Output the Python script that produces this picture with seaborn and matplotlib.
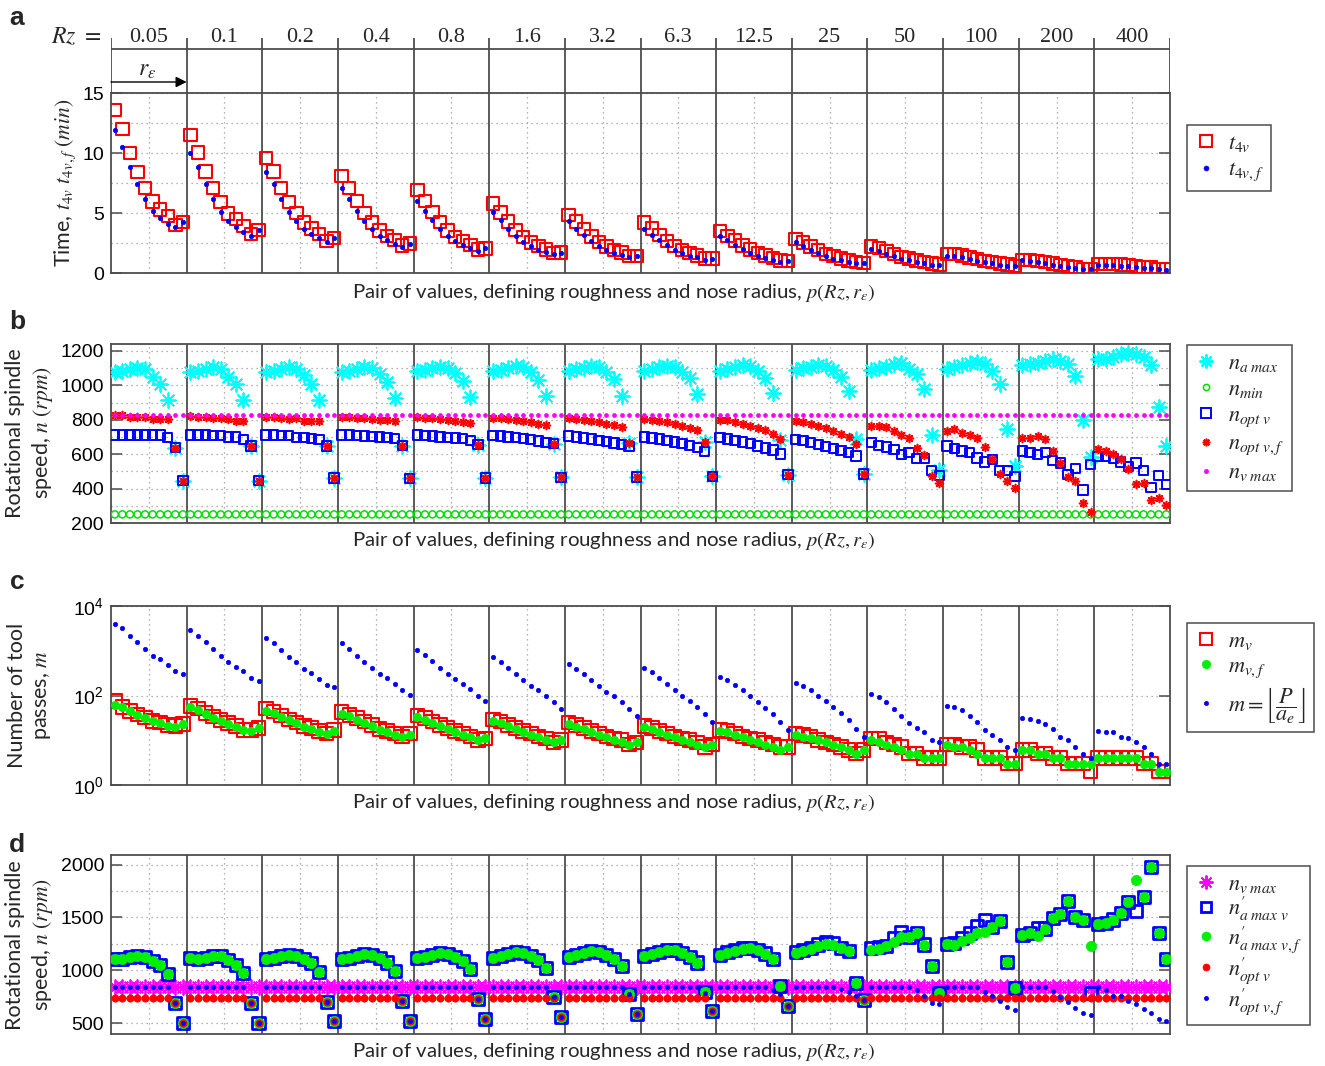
import numpy as np
import matplotlib
matplotlib.use("Agg")
import matplotlib.pyplot as plt
import seaborn as sns
from matplotlib.lines import Line2D
from matplotlib.ticker import FixedLocator, NullFormatter

sns.set_theme(style="white")
plt.rcParams['font.family'] = ['Liberation Sans', 'DejaVu Sans']
plt.rcParams['mathtext.fontset'] = 'stix'

# ---------------------------------------------------------------- data
rz_labels = ["0.05", "0.1", "0.2", "0.4", "0.8", "1.6", "3.2", "6.3",
             "12.5", "25", "50", "100", "200", "400"]
points_per_group = 10
pair = np.arange(1, len(rz_labels) * points_per_group + 1)

# (a) machining time, min
t4v = [
    13.6, 12.0, 10.0, 8.4, 7.1, 5.95, 5.3, 4.75, 4.0, 4.25,
    11.5, 10.05, 8.45, 7.1, 5.9, 4.97, 4.5, 3.94, 3.25, 3.58,
    9.6, 8.45, 7.1, 5.9, 5.0, 4.2, 3.7, 3.25, 2.67, 2.9,
    8.1, 7.1, 6.0, 5.0, 4.2, 3.55, 3.1, 2.75, 2.3, 2.45,
    6.9, 6.0, 5.1, 4.25, 3.55, 3.0, 2.65, 2.35, 1.95, 2.05,
    5.8, 5.05, 4.3, 3.6, 3.0, 2.55, 2.25, 1.95, 1.65, 1.7,
    4.85, 4.3, 3.65, 3.05, 2.6, 2.2, 1.9, 1.7, 1.4, 1.4,
    4.2, 3.7, 3.15, 2.65, 2.25, 1.9, 1.65, 1.45, 1.2, 1.2,
    3.5, 3.1, 2.7, 2.3, 1.95, 1.65, 1.45, 1.25, 1.05, 1.0,
    2.85, 2.55, 2.2, 1.9, 1.6, 1.4, 1.2, 1.05, 0.9, 0.85,
    2.2, 2.1, 1.85, 1.6, 1.35, 1.2, 1.05, 0.9, 0.8, 0.7,
    1.6, 1.6, 1.45, 1.3, 1.15, 1.0, 0.9, 0.8, 0.7, 0.6,
    1.1, 1.1, 1.0, 0.9, 0.8, 0.65, 0.55, 0.45, 0.35, 0.35,
    0.75, 0.75, 0.75, 0.7, 0.65, 0.55, 0.5, 0.45, 0.35, 0.3,
]
t4vf = [
    11.9, 10.5, 8.86, 7.4, 6.2, 5.2, 4.6, 4.1, 3.8, 4.25,
    10.0, 8.8, 7.4, 6.2, 5.1, 4.3, 3.86, 3.4, 3.1, 3.58,
    8.45, 7.4, 6.2, 5.1, 4.3, 3.7, 3.25, 2.9, 2.6, 2.9,
    7.1, 6.2, 5.2, 4.35, 3.65, 3.1, 2.75, 2.45, 2.2, 2.45,
    6.0, 5.2, 4.4, 3.7, 3.1, 2.65, 2.35, 2.1, 1.85, 2.05,
    5.05, 4.4, 3.7, 3.1, 2.6, 2.25, 1.95, 1.75, 1.55, 1.7,
    4.3, 3.7, 3.15, 2.65, 2.25, 1.9, 1.7, 1.5, 1.3, 1.4,
    3.7, 3.2, 2.75, 2.3, 1.95, 1.65, 1.45, 1.3, 1.1, 1.2,
    3.1, 2.75, 2.35, 2.0, 1.7, 1.45, 1.25, 1.1, 0.95, 1.0,
    2.55, 2.25, 1.95, 1.65, 1.4, 1.2, 1.05, 0.95, 0.8, 0.8,
    2.0, 1.85, 1.6, 1.4, 1.2, 1.05, 0.9, 0.8, 0.7, 0.65,
    1.45, 1.4, 1.3, 1.15, 1.0, 0.9, 0.8, 0.7, 0.6, 0.55,
    1.05, 1.0, 0.9, 0.8, 0.7, 0.6, 0.5, 0.4, 0.32, 0.3,
    0.7, 0.7, 0.65, 0.62, 0.58, 0.5, 0.45, 0.4, 0.32, 0.28,
]

# (b) rotational spindle speed, rpm
n_a_max = [
    1078, 1084, 1092, 1098, 1092, 1049, 1006, 916, 637, 445,
    1078, 1084, 1092, 1104, 1092, 1049, 1006, 916, 648, 445,
    1078, 1084, 1092, 1108, 1092, 1059, 1010, 916, 648, 461,
    1080, 1086, 1095, 1105, 1100, 1065, 1020, 925, 650, 460,
    1082, 1088, 1098, 1108, 1100, 1070, 1025, 930, 655, 462,
    1084, 1090, 1100, 1110, 1104, 1075, 1030, 935, 660, 465,
    1084, 1092, 1102, 1112, 1106, 1078, 1035, 940, 665, 468,
    1086, 1094, 1104, 1114, 1108, 1080, 1040, 950, 672, 472,
    1086, 1096, 1106, 1116, 1110, 1085, 1045, 955, 680, 480,
    1088, 1098, 1108, 1120, 1115, 1090, 1050, 965, 690, 485,
    1088, 1098, 1104, 1122, 1128, 1092, 1063, 981, 712, 510,
    1092, 1108, 1118, 1131, 1137, 1122, 1084, 1010, 745, 533,
    1118, 1122, 1131, 1143, 1151, 1143, 1122, 1053, 798, 582,
    1151, 1151, 1163, 1182, 1190, 1182, 1163, 1118, 872, 647,
]
n_min = [250] * 140
n_opt_v = [
    712, 712, 712, 712, 712, 712, 712, 696, 637, 445,
    712, 712, 712, 710, 710, 700, 700, 686, 648, 445,
    712, 712, 710, 710, 696, 696, 690, 686, 648, 461,
    712, 712, 708, 706, 702, 700, 696, 690, 650, 460,
    712, 708, 705, 700, 698, 694, 690, 680, 655, 462,
    710, 706, 700, 696, 690, 684, 676, 668, 660, 465,
    705, 700, 694, 688, 680, 672, 664, 655, 645, 468,
    700, 694, 688, 680, 670, 660, 650, 640, 615, 472,
    695, 688, 680, 670, 660, 648, 636, 625, 600, 480,
    685, 678, 668, 656, 646, 634, 620, 608, 590, 485,
    666, 651, 641, 628, 598, 608, 575, 575, 504, 475,
    647, 634, 618, 608, 578, 555, 569, 504, 504, 471,
    618, 608, 598, 608, 563, 549, 481, 516, 392, 539,
    588, 588, 575, 555, 529, 549, 504, 406, 476, 425,
]
n_opt_vf = [
    827, 827, 818, 818, 818, 804, 804, 804, 637, 445,
    824, 818, 818, 810, 810, 804, 794, 794, 648, 445,
    818, 818, 810, 804, 810, 794, 794, 790, 648, 461,
    818, 815, 812, 808, 804, 800, 796, 790, 650, 460,
    815, 812, 808, 804, 798, 794, 788, 780, 655, 462,
    812, 808, 804, 798, 792, 786, 778, 768, 660, 465,
    810, 806, 800, 792, 786, 778, 768, 756, 665, 468,
    806, 800, 794, 786, 776, 766, 754, 740, 672, 472,
    800, 796, 788, 778, 766, 752, 738, 720, 690, 480,
    790, 784, 776, 764, 750, 736, 720, 700, 660, 485,
    765, 765, 755, 735, 712, 696, 634, 594, 471, 431,
    735, 745, 725, 712, 696, 641, 569, 484, 445, 402,
    696, 696, 706, 686, 618, 549, 465, 445, 314, 265,
    628, 618, 598, 572, 516, 425, 431, 334, 343, 304,
]
n_v_max_b = [830] * 140

# (c) number of tool passes
m_v = [
    75, 56, 45, 38, 32, 27, 25, 22, 21, 23,
    58, 51, 41, 34, 28, 24, 21, 17, 17, 19,
    51, 44, 36, 29, 25, 21, 19, 16, 14, 17,
    43, 37, 31, 26, 22, 18, 16, 14, 12, 14,
    36, 31, 26, 22, 19, 16, 14, 12, 10, 11,
    29, 26, 22, 19, 16, 14, 12, 11, 9, 10,
    25, 22, 19, 16, 14, 12, 11, 10, 8, 9,
    21, 19, 16, 14, 12, 11, 10, 9, 7, 8,
    17, 16, 14, 12, 11, 10, 9, 8, 7, 7,
    14, 13, 12, 10, 9, 8, 7, 6, 5, 6,
    11, 11, 9, 8, 7, 5, 5, 4, 4, 4,
    8, 8, 7, 7, 6, 4, 4, 4, 3, 3,
    6, 6, 5, 5, 4, 4, 3, 3, 3, 2,
    4, 4, 4, 4, 4, 4, 3, 3, 2, 2,
]
m_vf = [
    61, 54, 45, 37, 32, 27, 24, 21, 20, 23,
    54, 47, 39, 32, 27, 23, 20, 17, 16, 19,
    46, 40, 33, 28, 24, 20, 18, 15, 14, 16,
    39, 34, 29, 24, 21, 17, 15, 13, 12, 13,
    33, 29, 24, 21, 18, 15, 13, 12, 10, 11,
    27, 24, 21, 18, 15, 13, 12, 10, 9, 10,
    23, 20, 18, 15, 13, 12, 10, 9, 8, 9,
    20, 18, 15, 13, 12, 10, 9, 8, 7, 8,
    16, 15, 13, 12, 10, 9, 8, 7, 6, 7,
    13, 12, 11, 10, 9, 8, 7, 6, 5, 6,
    10, 9, 8, 7, 6, 5, 5, 4, 4, 4,
    8, 7, 7, 6, 5, 4, 4, 4, 3, 3,
    6, 6, 5, 5, 4, 4, 3, 3, 3, 3,
    4, 4, 4, 4, 4, 4, 3, 3, 2, 2,
]
m_floor = [
    3960, 3170, 2170, 1550, 1075, 760, 645, 480, 353, 298,
    2900, 2170, 1550, 1075, 760, 550, 440, 353, 240, 214,
    1950, 1510, 1040, 740, 550, 385, 323, 234, 171, 152,
    1480, 1100, 780, 560, 410, 300, 240, 180, 130, 105,
    1040, 800, 580, 420, 310, 230, 180, 140, 100, 75,
    720, 560, 410, 300, 220, 165, 130, 100, 70, 50,
    500, 400, 300, 220, 165, 120, 95, 72, 50, 35,
    410, 330, 250, 185, 135, 100, 75, 55, 38, 25,
    257, 220, 170, 130, 95, 70, 52, 38, 26, 17,
    190, 165, 130, 100, 75, 55, 40, 28, 18, 12,
    107, 94, 72, 49, 34, 24, 19, 15, 10, 9,
    59, 55, 47, 35, 25, 17, 13, 10, 7, 6,
    32, 30, 27, 23, 18, 12, 10, 7, 5, 4,
    16, 15, 15, 12, 11, 9, 7, 5, 3, 3,
]

# (d) rotational spindle speed with modified constraints, rpm
n_v_max_d = [845] * 140
n1_a_max_v = [
    1104, 1107, 1123, 1135, 1128, 1091, 1050, 962, 689, 500,
    1113, 1107, 1119, 1135, 1135, 1097, 1050, 972, 694, 506,
    1104, 1116, 1132, 1148, 1138, 1107, 1069, 984, 701, 519,
    1110, 1122, 1138, 1155, 1148, 1115, 1075, 995, 715, 525,
    1115, 1128, 1145, 1162, 1155, 1125, 1085, 1010, 730, 545,
    1120, 1135, 1152, 1170, 1165, 1135, 1095, 1025, 750, 565,
    1130, 1145, 1162, 1180, 1175, 1148, 1110, 1045, 775, 585,
    1140, 1158, 1175, 1195, 1190, 1165, 1130, 1075, 800, 615,
    1150, 1170, 1190, 1215, 1215, 1195, 1160, 1110, 850, 660,
    1170, 1190, 1215, 1245, 1265, 1255, 1215, 1180, 880, 720,
    1208, 1223, 1229, 1302, 1364, 1317, 1355, 1245, 1041, 789,
    1248, 1260, 1302, 1355, 1418, 1475, 1406, 1465, 1081, 830,
    1333, 1349, 1396, 1396, 1491, 1531, 1657, 1506, 1475, 789,
    1437, 1449, 1481, 1543, 1647, 1562, 1689, 1977, 1349, 1104,
]
n1_a_max_vf = [
    1104, 1107, 1123, 1135, 1128, 1091, 1050, 962, 689, 500,
    1113, 1107, 1119, 1135, 1135, 1097, 1050, 972, 694, 506,
    1104, 1116, 1132, 1148, 1138, 1107, 1069, 984, 701, 519,
    1110, 1122, 1138, 1155, 1148, 1115, 1075, 995, 715, 525,
    1115, 1128, 1145, 1162, 1155, 1125, 1085, 1010, 730, 545,
    1120, 1135, 1152, 1170, 1165, 1135, 1095, 1025, 750, 565,
    1130, 1145, 1162, 1180, 1175, 1148, 1110, 1045, 775, 585,
    1140, 1158, 1175, 1195, 1190, 1165, 1130, 1075, 800, 615,
    1150, 1165, 1185, 1205, 1210, 1190, 1160, 1110, 850, 660,
    1165, 1180, 1200, 1230, 1250, 1245, 1215, 1180, 880, 720,
    1191, 1198, 1229, 1270, 1317, 1317, 1349, 1245, 1041, 789,
    1248, 1239, 1279, 1311, 1355, 1364, 1411, 1465, 1081, 830,
    1333, 1349, 1324, 1396, 1491, 1531, 1657, 1506, 1475, 1229,
    1437, 1449, 1481, 1543, 1647, 1858, 1689, 1977, 1349, 1104,
]
n1_opt_v = [
    736, 736, 736, 736, 736, 736, 736, 736, 689, 500,
    736, 736, 736, 736, 736, 736, 736, 736, 694, 506,
    736, 736, 736, 736, 736, 736, 736, 736, 701, 519,
    736, 736, 736, 736, 736, 736, 736, 736, 715, 525,
    736, 736, 736, 736, 736, 736, 736, 736, 730, 545,
    736, 736, 736, 736, 736, 736, 736, 736, 736, 565,
    736, 736, 736, 736, 736, 736, 736, 736, 736, 585,
    736, 736, 736, 736, 736, 736, 736, 736, 736, 615,
    736, 736, 736, 736, 736, 736, 736, 736, 736, 660,
    736, 736, 736, 736, 736, 736, 736, 736, 736, 720,
    736, 736, 736, 736, 736, 736, 736, 736, 736, 736,
    736, 736, 736, 736, 736, 736, 736, 736, 736, 736,
    736, 736, 736, 736, 736, 736, 736, 736, 736, 736,
    736, 736, 736, 736, 736, 736, 736, 736, 736, 736,
]
n1_opt_vf = [
    845, 845, 845, 845, 845, 845, 845, 845, 689, 500,
    845, 845, 845, 845, 845, 845, 845, 845, 694, 506,
    845, 845, 845, 845, 845, 845, 845, 845, 701, 519,
    845, 845, 845, 845, 845, 845, 845, 845, 715, 525,
    845, 845, 845, 845, 845, 845, 845, 845, 730, 545,
    845, 845, 845, 845, 845, 845, 845, 845, 750, 565,
    845, 845, 845, 845, 845, 845, 845, 845, 775, 585,
    845, 845, 845, 845, 845, 845, 845, 840, 790, 615,
    845, 845, 845, 845, 845, 845, 840, 820, 780, 660,
    845, 845, 845, 845, 845, 840, 825, 800, 760, 720,
    845, 845, 845, 845, 845, 845, 814, 758, 694, 682,
    845, 845, 845, 845, 845, 798, 758, 713, 657, 625,
    845, 845, 845, 845, 808, 752, 704, 644, 597, 575,
    845, 820, 758, 758, 713, 686, 632, 601, 538, 522,
]

# ---------------------------------------------------------------- layout
W, H = 1325, 1066
fig = plt.figure(figsize=(W / 100, H / 100), dpi=100)
fig.patch.set_facecolor("white")


def fig_rect(x0, y0, x1, y1):
    return [x0 / W, 1 - y1 / H, (x1 - x0) / W, (y1 - y0) / H]


FRAME = "#4d4d4d"
GRID = "#9a9a9a"
XL = (0.5, len(pair) + 0.5)
boundaries = np.arange(points_per_group + 0.5, len(pair), points_per_group)
centers = np.arange(points_per_group / 2 + 0.5, len(pair), points_per_group)
label_font = ['Lato', 'DejaVu Sans']


def frame(ax, major, minor=None):
    ax.set_xlim(*XL)
    ax.set_facecolor("white")
    for sp in ax.spines.values():
        sp.set_color(FRAME)
        sp.set_linewidth(1.3)
        sp.set_visible(True)
    ax.xaxis.set_major_locator(FixedLocator(centers))
    ax.xaxis.set_major_formatter(NullFormatter())
    ax.yaxis.set_major_locator(FixedLocator(major))
    if minor is not None:
        ax.yaxis.set_minor_locator(FixedLocator(minor))
        ax.yaxis.set_minor_formatter(NullFormatter())
    ax.tick_params(axis='x', length=0)
    ax.tick_params(axis='y', which='major', direction='in', length=8, width=1.1,
                   color=FRAME, left=True, right=True, labelsize=14,
                   labelcolor="black", pad=5)
    ax.tick_params(axis='y', which='minor', length=0)
    ax.grid(True, axis='both', which='major', color=GRID, linestyle=(0, (1, 3)),
            linewidth=0.9)
    ax.grid(True, axis='y', which='minor', color=GRID, linestyle=(0, (1, 3)),
            linewidth=0.9)
    for b in boundaries:
        ax.axvline(b, color=FRAME, linewidth=1.3, zorder=1.5)
    ax.set_xlabel("")
    ax.set_ylabel("")


def put(ax, y, marker, s, face, edge, lw, z):
    sns.scatterplot(x=pair, y=y, ax=ax, marker=marker, s=s, facecolor=face,
                    edgecolor=edge, linewidth=lw, zorder=z, legend=False)


def xlabel(ypix):
    fig.text(614 / W, 1 - ypix / H,
             r"Pair of values, defining roughness and nose radius, $p(Rz,r_{\varepsilon})$",
             ha='center', va='center', fontsize=14.7, family=label_font)


def ylabel(xpix, ypix, text):
    fig.text(xpix / W, 1 - ypix / H, text, rotation=90, ha='center',
             va='center', fontsize=15.5, family=label_font, linespacing=1.25)


def legend(handles, labels, x0, y0, spacing):
    lg = fig.legend(handles, labels, loc='upper left',
                    bbox_to_anchor=(x0 / W, 1 - y0 / H), frameon=True,
                    fancybox=False, framealpha=1, edgecolor=FRAME,
                    fontsize=16, handlelength=1.0, handletextpad=0.5,
                    labelspacing=spacing, borderpad=0.35, borderaxespad=0)
    lg.get_frame().set_linewidth(1.1)


def handle(marker, ms, face, edge, mew):
    return Line2D([], [], linestyle='none', marker=marker, markersize=ms,
                  markerfacecolor=face, markeredgecolor=edge, markeredgewidth=mew)


ASTER = (8, 2, 0)

# ---------------------------------------------------------------- panel a
ax_a = fig.add_axes(fig_rect(111, 93, 1170, 273))
frame(ax_a, [0, 5, 10, 15], [2.5, 7.5, 12.5])
ax_a.set_ylim(0, 15)
put(ax_a, t4v, 's', 80, 'none', 'red', 1.5, 3)
put(ax_a, t4vf, 'o', 10, 'blue', 'blue', 0.5, 4)
ylabel(65, 183, r"Time, $t_{4v}$ $t_{4v,f}$ $(min)$")
xlabel(293)
legend([handle('s', 9, 'none', 'red', 1.5), handle('o', 3.5, 'blue', 'blue', 0.5)],
       [r"$t_{4v}$", r"$t_{4v,f}$"], 1187, 125, 0.25)

# header rows above panel a
hx = fig.add_axes(fig_rect(111, 38, 1170, 93))
hx.set_xlim(*XL)
hx.set_ylim(0, 1)
hx.axis('off')
hx.axhline(0.8, color=FRAME, linewidth=1.3)
for b in np.concatenate([[XL[0]], boundaries, [XL[1]]]):
    hx.axvline(b, color=FRAME, linewidth=1.3)
for c, lab in zip(centers, rz_labels):
    hx.text(c, 1.0, lab, ha='center', va='center', fontsize=16,
            family=['Liberation Serif', 'DejaVu Serif'], clip_on=False)
fig.text(101 / W, 1 - 37 / H, r"$Rz\ =$", ha='right', va='center', fontsize=17)
hx.annotate("", xy=(XL[0] + points_per_group, 0.2), xytext=(XL[0], 0.2),
            arrowprops=dict(arrowstyle='-|>', color='black', lw=1.0,
                            mutation_scale=16, shrinkA=0, shrinkB=0))
hx.text(5.3, 0.42, r"$r_{\varepsilon}$", ha='center', va='center', fontsize=17)

# ---------------------------------------------------------------- panel b
ax_b = fig.add_axes(fig_rect(111, 344, 1170, 523))
frame(ax_b, [200, 400, 600, 800, 1000, 1200], [300, 500, 700, 900, 1100])
ax_b.set_ylim(200, 1240)
put(ax_b, n_a_max, ASTER, 110, 'cyan', 'cyan', 1.3, 3)
put(ax_b, n_min, 'o', 26, 'none', '#00e000', 1.1, 3.1)
put(ax_b, n_opt_v, 's', 45, 'none', 'blue', 1.4, 3.2)
put(ax_b, n_opt_vf, ASTER, 32, 'red', 'red', 1.2, 3.3)
put(ax_b, n_v_max_b, 'o', 8, 'magenta', 'magenta', 0.5, 3.4)
ylabel(30, 433, "Rotational spindle\nspeed, $n$ $(rpm)$")
xlabel(541)
legend([handle(ASTER, 10, 'cyan', 'cyan', 1.4),
        handle('o', 4.5, 'none', '#00e000', 1.1),
        handle('s', 6.5, 'none', 'blue', 1.4),
        handle(ASTER, 5.5, 'red', 'red', 1.2),
        handle('o', 3, 'magenta', 'magenta', 0.5)],
       [r"$n_{a\ max}$", r"$n_{min}$", r"$n_{opt\ v}$", r"$n_{opt\ v,f}$",
        r"$n_{v\ max}$"], 1187, 345, 0.22)

# ---------------------------------------------------------------- panel c
ax_c = fig.add_axes(fig_rect(111, 606, 1170, 785))
ax_c.set_yscale('log')
frame(ax_c, [1, 100, 10000])
ax_c.yaxis.set_minor_locator(FixedLocator([]))
ax_c.set_yticklabels([r"$\mathdefault{10^{0}}$", r"$\mathdefault{10^{2}}$",
                      r"$\mathdefault{10^{4}}$"])
ax_c.set_ylim(1, 10000)
put(ax_c, m_v, 's', 95, 'none', 'red', 1.5, 3)
put(ax_c, m_vf, 'o', 36, '#00ee00', '#00ee00', 0.5, 3.1)
put(ax_c, m_floor, 'o', 10, 'blue', 'blue', 0.5, 3.2)
ylabel(30, 695, "Number of tool\npasses, $m$")
xlabel(803)
legend([handle('s', 9, 'none', 'red', 1.5),
        handle('o', 6, '#00ee00', '#00ee00', 0.5),
        handle('o', 3, 'blue', 'blue', 0.5)],
       [r"$m_{v}$", r"$m_{v,f}$", r"$m=\left\lfloor\dfrac{P}{a_e}\right\rfloor$"],
       1187, 623, 0.2)

# ---------------------------------------------------------------- panel d
ax_d = fig.add_axes(fig_rect(111, 855, 1170, 1034))
frame(ax_d, [500, 1000, 1500, 2000], [750, 1250, 1750])
ax_d.set_ylim(400, 2090)
put(ax_d, n_v_max_d, ASTER, 110, 'magenta', 'magenta', 1.3, 3)
put(ax_d, n1_a_max_v, 's', 75, 'none', 'blue', 2.0, 3.1)
put(ax_d, n1_a_max_vf, 'o', 55, '#00ee00', '#00ee00', 0.5, 3.2)
put(ax_d, n1_opt_v, 'o', 28, 'red', 'red', 0.5, 3.3)
put(ax_d, n1_opt_vf, 'o', 9, 'blue', 'blue', 0.5, 3.4)
ylabel(30, 945, "Rotational spindle\nspeed, $n$ $(rpm)$")
xlabel(1052)
legend([handle(ASTER, 10, 'magenta', 'magenta', 1.4),
        handle('s', 7.5, 'none', 'blue', 2.0),
        handle('o', 6.5, '#00ee00', '#00ee00', 0.5),
        handle('o', 5, 'red', 'red', 0.5),
        handle('o', 3, 'blue', 'blue', 0.5)],
       [r"$n_{v\ max}$", r"$n^{\prime}_{a\ max\ v}$", r"$n^{\prime}_{a\ max\ v,f}$",
        r"$n^{\prime}_{opt\ v}$", r"$n^{\prime}_{opt\ v,f}$"], 1187, 866, 0.02)

# ---------------------------------------------------------------- panel letters
for letter, ypix in zip("abcd", [18, 322, 582, 845]):
    fig.text(17 / W, 1 - ypix / H, letter, ha='center', va='center',
             fontsize=19, fontweight='bold')

fig.savefig("out.png", dpi=100, facecolor="white")
